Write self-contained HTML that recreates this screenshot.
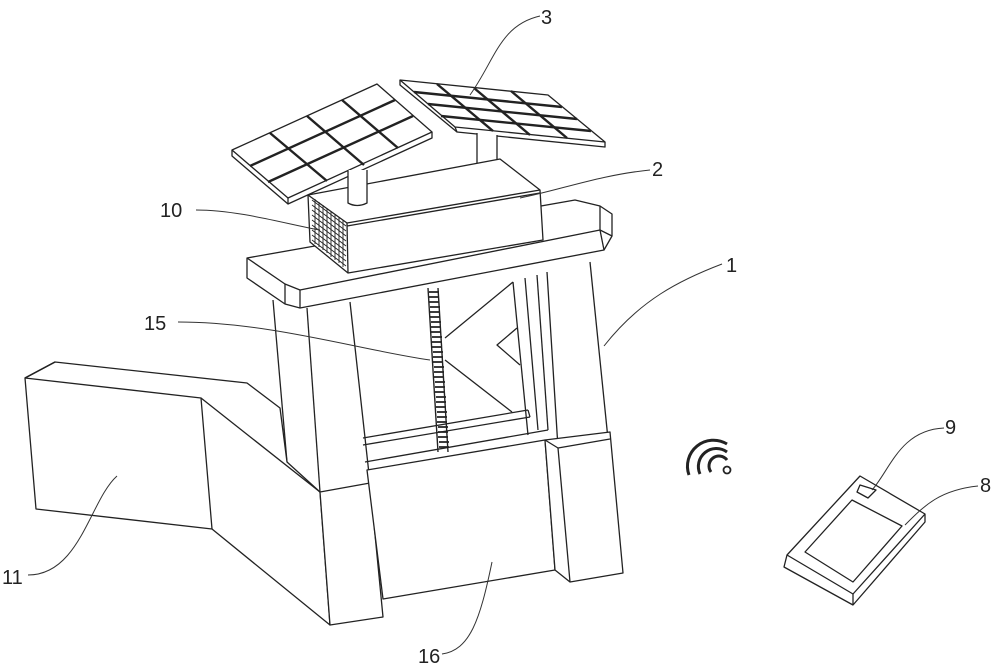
<!DOCTYPE html>
<html><head><meta charset="utf-8"><style>
html,body{margin:0;padding:0;background:#fff}
svg{display:block}
text{font-family:"Liberation Sans",sans-serif;font-size:20px;fill:#222}
</style></head><body>
<svg width="1000" height="668" viewBox="0 0 1000 668" xmlns="http://www.w3.org/2000/svg">
<g fill="none" stroke="#222" stroke-width="1.3" stroke-linejoin="round">
<!-- left solar panel -->
<polygon points="232,150 377,84 432,132 288,198" fill="#fff"/>
<polyline points="232,150 232,156 288,204 432,138 432,132"/>
<line x1="288" y1="198" x2="288" y2="204"/>
<g stroke-width="2.4">
<line x1="270" y1="133" x2="327" y2="181"/>
<line x1="307" y1="116" x2="364" y2="165"/>
<line x1="342" y1="100" x2="398" y2="148"/>
<line x1="250" y1="166" x2="395" y2="100"/>
<line x1="268" y1="182" x2="413" y2="116"/>
</g>
<!-- right solar panel -->
<polygon points="400,80 548,95 605,142 455,127" fill="#fff"/>
<polyline points="400,80 400,85 457,132 605,147 605,142"/>
<line x1="455" y1="127" x2="457" y2="132"/>
<g stroke-width="2.4">
<line x1="437" y1="84" x2="493" y2="131"/>
<line x1="474" y1="88" x2="530" y2="135"/>
<line x1="511" y1="91" x2="567" y2="138"/>
<line x1="414" y1="92" x2="562" y2="107"/>
<line x1="428" y1="104" x2="577" y2="119"/>
<line x1="441" y1="116" x2="591" y2="131"/>
</g>
<!-- right column (behind slab) -->
<line x1="513" y1="282" x2="528" y2="435"/>
<line x1="525" y1="278" x2="538" y2="430"/>
<line x1="537" y1="275" x2="548" y2="430"/>
<line x1="547" y1="272" x2="558" y2="448"/>
<line x1="590" y1="262" x2="608" y2="439"/>
<!-- left column -->
<line x1="273" y1="300" x2="287" y2="462"/>
<line x1="307" y1="308" x2="320" y2="492"/>
<line x1="350" y1="302" x2="370" y2="483"/>
<!-- posts -->
<path d="M477,133 L477,180 Q487,185 497,180 L497,135" fill="#fff"/>
<!-- top slab -->
<polygon points="247,258 575,200 600,206 612,214 612,236 604,250 300,308 285,304 247,278" fill="#fff"/>
<polyline points="247,258 285,284 300,290 600,230 600,206"/>
<line x1="600" y1="230" x2="612" y2="236"/>
<line x1="600" y1="230" x2="604" y2="250"/>
<line x1="285" y1="284" x2="285" y2="304"/>
<line x1="300" y1="290" x2="300" y2="308"/>
<!-- box -->
<polygon points="308,195 500,159 540,190 543,240 348,273 310,242" fill="#fff"/>
<polyline points="308,195 347,223 540,190"/>
<line x1="347" y1="223" x2="348" y2="273"/>
<line x1="347" y1="226" x2="540" y2="193"/>
<path d="M348,170 L348,203 Q357,208 367,203 L367,170" fill="#fff"/>
<g stroke-width="0.9" stroke="#222">
<line x1="312" y1="200" x2="346" y2="226"/><line x1="312" y1="205" x2="346" y2="231"/>
<line x1="312" y1="210" x2="346" y2="236"/><line x1="312" y1="215" x2="346" y2="241"/>
<line x1="312" y1="220" x2="346" y2="246"/><line x1="312" y1="225" x2="346" y2="251"/>
<line x1="312" y1="230" x2="346" y2="256"/><line x1="312" y1="235" x2="346" y2="261"/>
<line x1="312" y1="240" x2="346" y2="266"/>
<line x1="315" y1="199" x2="315" y2="244"/><line x1="319" y1="202" x2="319" y2="247"/>
<line x1="323" y1="205" x2="323" y2="250"/><line x1="327" y1="208" x2="327" y2="253"/>
<line x1="331" y1="211" x2="331" y2="257"/><line x1="335" y1="214" x2="335" y2="260"/>
<line x1="339" y1="217" x2="339" y2="263"/><line x1="343" y1="220" x2="343" y2="267"/>
</g>
<!-- channel 11 -->
<polygon points="55,362 247,383 280,408 287,462 320,492 330,625 212,529 36,509 25,378" fill="#fff"/>
<polyline points="25,378 201,398 212,529"/>
<line x1="25" y1="378" x2="55" y2="362"/>
<line x1="201" y1="398" x2="320" y2="492"/>
<!-- left lower block -->
<polygon points="320,492 370,483 383,617 330,625" fill="#fff"/>
<!-- diagonal / triangle -->
<line x1="513" y1="282" x2="445" y2="338"/>
<line x1="445" y1="360" x2="512" y2="412"/>
<polyline points="517,328 497,345 520,365"/>
<!-- crossbar -->
<line x1="363" y1="438" x2="528" y2="410"/>
<line x1="363" y1="445" x2="530" y2="417"/>
<line x1="365" y1="462" x2="548" y2="430"/>
<line x1="528" y1="410" x2="530" y2="417"/>
<!-- screw -->
<g stroke-width="1.4">
<line x1="428" y1="288" x2="438" y2="452"/><line x1="438" y1="288" x2="448" y2="452"/>
</g>
<g stroke-width="1.8">
<path d="M429,292h10M429,297h10M429,302h10M430,307h10M430,312h10M430,317h10M431,322h10M431,327h10M431,332h10M432,337h10M432,342h10M432,347h10M433,352h10M433,357h10M433,362h10M434,367h10M434,372h10M434,377h10M435,382h10M435,387h10M435,392h10M436,397h10M436,402h10M436,407h10M437,412h10M437,417h10M437,422h10M438,427h10M438,432h10M438,437h10M439,442h10M439,447h10"/>
</g>
<!-- gate 16 -->
<polygon points="367,470 545,440 555,570 383,599" fill="#fff"/>
<!-- right lower block -->
<polygon points="545,440 610,432 623,573 570,582 555,570" fill="#fff"/>
<polyline points="545,440 558,448 610,439"/>
<line x1="558" y1="448" x2="570" y2="582"/>
<!-- wifi -->
<g stroke-width="3">
<path d="M727,444 A26,26 0 0 0 689,475"/>
<path d="M727,452 A18,18 0 0 0 700,474"/>
<path d="M727,460 A10,10 0 0 0 711,472"/>
</g>
<circle cx="727" cy="470" r="3.5" stroke-width="1.8"/>
<!-- remote -->
<polygon points="860,476 925,514 925,522 853,605 784,567 787,555" fill="#fff"/>
<polyline points="787,555 853,594 925,514"/>
<line x1="853" y1="594" x2="853" y2="605"/>
<polygon points="852,500 902,526 853,582 805,552"/>
<polygon points="860,485 876,490 868,498 857,492"/>
</g>
<!-- leaders -->
<g fill="none" stroke="#333" stroke-width="1">
<path d="M540,16 C500,25 495,60 470,95"/>
<path d="M650,170 C600,175 560,190 520,198"/>
<path d="M196,210 C240,210 290,225 320,230"/>
<path d="M722,264 C680,280 640,300 604,346"/>
<path d="M178,322 C270,322 360,350 430,360"/>
<path d="M944,428 C900,430 890,470 872,490"/>
<path d="M978,486 C940,490 925,505 905,525"/>
<path d="M28,575 C80,575 90,500 117,476"/>
<path d="M442,654 C470,650 480,620 492,562"/>
</g>
<text x="541" y="24">3</text>
<text x="652" y="176">2</text>
<text x="160" y="217">10</text>
<text x="726" y="272">1</text>
<text x="144" y="330">15</text>
<text x="945" y="434">9</text>
<text x="980" y="492">8</text>
<text x="2" y="584">11</text>
<text x="418" y="663">16</text>
</svg>
</body></html>
